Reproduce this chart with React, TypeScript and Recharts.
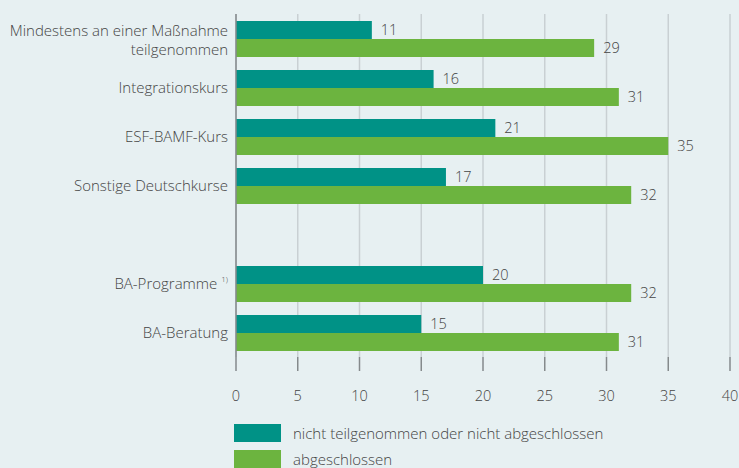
import { Bar, BarChart, CartesianGrid, LabelList, Legend, XAxis, YAxis } from "recharts";

const kategorien = [
    "Mindestens an einer Maßnahme teilgenommen",
    "Integrationskurs",
    "ESF-BAMF-Kurs",
    "Sonstige Deutschkurse",
    "",
    "BA-Programme",
    "BA-Beratung",
];
const nichtAbgeschlossen = [11, 16, 21, 17, null, 20, 15];
const abgeschlossen = [29, 31, 35, 32, null, 32, 31];
const xTicks = [0, 5, 10, 15, 20, 25, 30, 35, 40];

const TEAL = "#009286";
const GRUEN = "#6cb43f";
const TEXT = "#444";
const FONT = "'Open Sans', sans-serif";
const GEWICHT = 300;

const daten = kategorien.map((name, i) => ({
    name: name === "" ? " " : name,
    nicht: nichtAbgeschlossen[i],
    ab: abgeschlossen[i],
}));

function KategorieTick({ x, y, payload }: any) {
    const wert: string = payload.value;
    const stil = { fill: TEXT, fontSize: 15, fontFamily: FONT, fontWeight: GEWICHT };
    if (wert === "Mindestens an einer Maßnahme teilgenommen") {
        return (
            <g>
                <text x={x} y={y} dy={-3} textAnchor="end" {...stil}>
                    Mindestens an einer Maßnahme
                </text>
                <text x={x} y={y} dy={16} textAnchor="end" {...stil}>
                    teilgenommen
                </text>
            </g>
        );
    }
    if (wert === "BA-Programme") {
        return (
            <text x={x} y={y} dy={5} textAnchor="end" {...stil}>
                <tspan>BA-Programme </tspan>
                <tspan fontSize={8} dy={-7}>1)</tspan>
            </text>
        );
    }
    return (
        <text x={x} y={y} dy={5} textAnchor="end" {...stil}>
            {wert}
        </text>
    );
}

function Legende() {
    const eintraege = [
        { farbe: TEAL, text: "nicht teilgenommen oder nicht abgeschlossen" },
        { farbe: GRUEN, text: "abgeschlossen" },
    ];
    return (
        <div style={{ fontFamily: FONT, fontSize: 15, fontWeight: GEWICHT, color: TEXT }}>
            {eintraege.map((e) => (
                <div key={e.text} style={{ display: "flex", alignItems: "center", height: 26 }}>
                    <div style={{ width: 47, height: 18, background: e.farbe, marginRight: 12 }} />
                    <span>{e.text}</span>
                </div>
            ))}
        </div>
    );
}

export default function App() {
    return (
        <div style={{ position: "absolute", left: 0, top: 0, width: 739, height: 468, background: "#e7f0f2", overflow: "hidden" }}>
            <BarChart
                width={739}
                height={468}
                data={daten}
                layout="vertical"
                margin={{ top: 14, right: 9, bottom: 61, left: 0 }}
                barGap={0}
                barSize={18}
            >
                <CartesianGrid horizontal={false} stroke="#c9d0d3" strokeWidth={1.5} />
                <XAxis
                    type="number"
                    domain={[0, 40]}
                    ticks={xTicks}
                    axisLine={false}
                    tickLine={{ stroke: "#858a8c", strokeWidth: 1.5 }}
                    tickSize={14}
                    tickMargin={20}
                    height={50}
                    tick={{ fill: TEXT, fontSize: 14.5, fontFamily: FONT, fontWeight: GEWICHT }}
                />
                <YAxis
                    type="category"
                    dataKey="name"
                    width={236}
                    axisLine={{ stroke: "#858a8c", strokeWidth: 1.5 }}
                    tickLine={false}
                    tickSize={0}
                    tickMargin={8}
                    interval={0}
                    tick={<KategorieTick />}
                />
                <Legend
                    layout="horizontal"
                    verticalAlign="middle"
                    align="center"
                    content={<Legende />}
                    wrapperStyle={{ left: 234, top: 420, width: 440 }}
                />
                <Bar dataKey="nicht" fill={TEAL} isAnimationActive={false}>
                    <LabelList dataKey="nicht" position="right" offset={9} fill={TEXT} fontSize={14.5} fontFamily={FONT} fontWeight={GEWICHT} />
                </Bar>
                <Bar dataKey="ab" fill={GRUEN} isAnimationActive={false}>
                    <LabelList dataKey="ab" position="right" offset={9} fill={TEXT} fontSize={14.5} fontFamily={FONT} fontWeight={GEWICHT} />
                </Bar>
            </BarChart>
        </div>
    );
}
